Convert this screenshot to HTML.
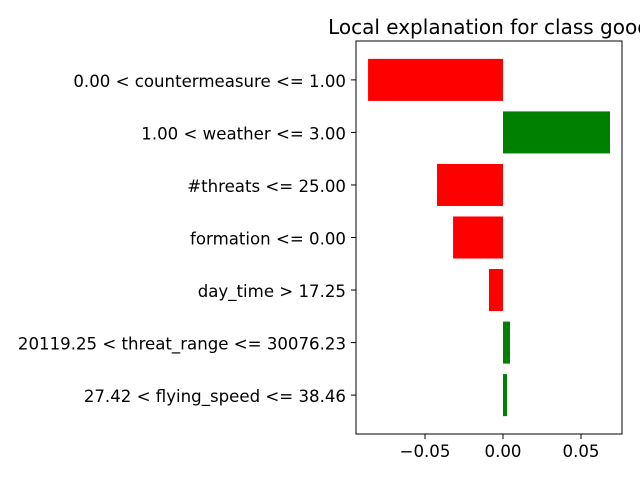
<!DOCTYPE html>
<html><head><meta charset="utf-8">
<style>
html,body{margin:0;padding:0;background:#fff;}
svg{display:block;font-family:"DejaVu Sans","Liberation Sans",sans-serif;}
</style></head>
<body>
<svg id="chart" width="640" height="480" viewBox="0 0 640 480"></svg>
<script>
const features = ["0.00 < countermeasure <= 1.00","1.00 < weather <= 3.00","#threats <= 25.00","formation <= 0.00","day_time > 17.25","20119.25 < threat_range <= 30076.23","27.42 < flying_speed <= 38.46"];
const weights = [-0.0865, 0.0686, -0.0423, -0.032, -0.009, 0.0045, 0.0026];
const xTicks = [-0.05, 0, 0.05];
const xTickLabels = ["\u22120.05","0.00","0.05"];

const NS="http://www.w3.org/2000/svg";
const svg=document.getElementById('chart');
const L=356,R=622,T=41,B=434;
const x0=503, ppu=1560;
const xs=v=>x0+v*ppu;
const n=features.length;
const yMin=-0.74,yMax=n-1+0.74;
const ys=i=>T+(i-yMin)/(yMax-yMin)*(B-T);
const unit=(B-T)/(yMax-yMin);
function mk(tag,attrs,parent){const e=document.createElementNS(NS,tag);for(const k in attrs)e.setAttribute(k,attrs[k]);(parent||svg).appendChild(e);return e;}

const title=mk('text',{x:(L+R)/2,y:34,'text-anchor':'middle','font-size':'20'});
title.textContent="Local explanation for class good";



weights.forEach((w,i)=>{
  const yc=ys(i),h=unit*0.8;
  const r=mk('rect',{x:Math.min(xs(0),xs(w)),y:yc-h/2,width:Math.abs(xs(w)-xs(0)),height:h,fill:w>=0?'#008000':'#ff0000'});
  
  
  mk('line',{x1:L,x2:L-5,y1:yc,y2:yc,stroke:'#000','stroke-width':1});
  const t=mk('text',{x:L-10,y:yc+7,'text-anchor':'end','font-size':'16.6'});
  t.textContent=features[i];
  
  
});

xTicks.forEach((v,i)=>{
  const x=xs(v);
  mk('line',{x1:x,x2:x,y1:B,y2:B+5,stroke:'#000','stroke-width':1});
  const t=mk('text',{x:x,y:B+23,'text-anchor':'middle','font-size':'16.6'});
  t.textContent=xTickLabels[i];
  
  
});

const frame=mk('rect',{x:L,y:T,width:R-L,height:B-T,fill:'none',stroke:'#000','stroke-width':1});


</script>
</body></html>
